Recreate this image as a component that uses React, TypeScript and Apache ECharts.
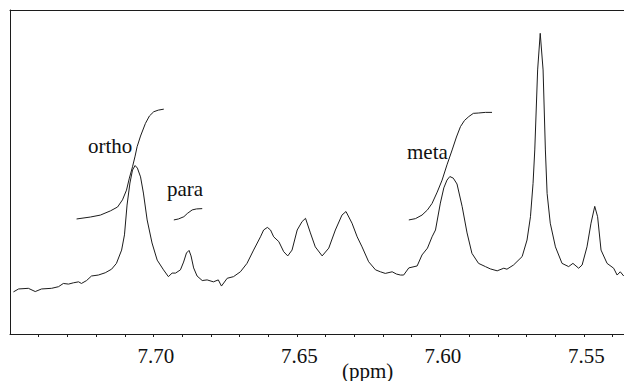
import React, { useEffect, useRef } from "react";
import * as echarts from "echarts";

// Chemical shift axis (ppm), reversed as in NMR convention
const axisMin = 7.536;
const axisMax = 7.75;
const tickLabels = [7.55, 7.6, 7.65, 7.7];
const minorTicks = [7.54, 7.55, 7.56, 7.57, 7.58, 7.59, 7.6, 7.61, 7.62, 7.63, 7.64, 7.65, 7.66, 7.67, 7.68, 7.69, 7.7, 7.71, 7.72, 7.73, 7.74];

// 1H NMR spectrum (relative intensity)
const spectrumPpm = [
  7.7488, 7.747, 7.7436, 7.7412, 7.739, 7.7355, 7.7331, 7.7314, 7.7296, 7.7279, 7.7261, 7.7251, 7.7233, 7.7216,
  7.7192, 7.7168, 7.7146, 7.7129, 7.7111, 7.7101, 7.7092, 7.7082, 7.7073, 7.7064, 7.7056, 7.7045, 7.7035, 7.7022,
  7.7005, 7.6987, 7.6965, 7.6948, 7.6935, 7.6923, 7.6906, 7.6895, 7.6885, 7.6876, 7.6869, 7.686, 7.6848, 7.683,
  7.6813, 7.6791, 7.6774, 7.6763, 7.6743, 7.6721, 7.6697, 7.6674, 7.6651, 7.6627, 7.6616, 7.6603, 7.6592, 7.6581,
  7.6563, 7.6546, 7.6532, 7.6517, 7.6499, 7.6482, 7.647, 7.6453, 7.6436, 7.6412, 7.6389, 7.6366, 7.6343, 7.6329,
  7.6308, 7.629, 7.6273, 7.625, 7.6226, 7.6209, 7.6192, 7.6168, 7.6153, 7.6139, 7.6128, 7.611, 7.6081, 7.6064,
  7.6045, 7.6029, 7.6017, 7.6, 7.5988, 7.5977, 7.5967, 7.5955, 7.5942, 7.5924, 7.5907, 7.589, 7.5867, 7.5843,
  7.5826, 7.5802, 7.5779, 7.5768, 7.5745, 7.5715, 7.5698, 7.5686, 7.5677, 7.5671, 7.5661, 7.5652, 7.5642, 7.5634,
  7.5628, 7.5617, 7.5599, 7.5576, 7.5553, 7.5538, 7.5518, 7.5506, 7.5489, 7.5475, 7.5462, 7.5452, 7.544, 7.5419,
  7.5396, 7.5384, 7.5373, 7.5361,
];
const spectrumIntensity = [
  13.0, 13.9, 14.1, 13.1, 13.9, 14.1, 14.6, 15.6, 15.4, 15.8, 16.1, 15.6, 16.5, 17.9,
  18.2, 18.9, 20.0, 21.8, 25.9, 30.6, 39.8, 46.6, 50.6, 52.0, 51.2, 48.5, 43.5, 35.2,
  28.1, 22.8, 19.8, 17.7, 18.8, 18.8, 19.8, 22.2, 25.0, 25.8, 24.1, 20.4, 17.9, 16.5,
  16.7, 16.1, 16.7, 14.8, 17.2, 17.7, 19.2, 21.8, 25.9, 30.0, 32.1, 32.9, 32.1, 30.0,
  28.5, 25.4, 24.1, 25.9, 32.1, 34.7, 35.7, 31.2, 26.9, 24.1, 26.5, 32.1, 36.7, 37.8,
  34.2, 30.0, 26.9, 22.3, 19.8, 19.2, 18.7, 19.2, 18.5, 18.2, 18.2, 20.4, 21.0, 24.4,
  26.5, 30.0, 32.1, 40.4, 45.1, 47.5, 48.6, 48.1, 46.3, 39.3, 31.2, 24.9, 21.8, 20.8,
  20.1, 19.5, 20.3, 20.0, 21.3, 23.9, 29.0, 36.2, 46.5, 56.8, 81.5, 92.8, 81.5, 56.8,
  43.4, 34.2, 26.9, 21.8, 20.8, 21.8, 20.3, 21.3, 26.9, 34.2, 39.4, 36.2, 25.9, 21.8,
  20.3, 18.2, 19.2, 17.9,
];

// Integral traces
const orthoPpm = [7.7268, 7.722, 7.7185, 7.715, 7.7125, 7.7108, 7.7094, 7.7084, 7.7073, 7.7064, 7.7057, 7.7045, 7.7028, 7.7014, 7.6999, 7.6983, 7.6964];
const orthoIntegral = [35.5, 36.1, 36.7, 38.0, 39.2, 41.4, 44.4, 48.1, 51.6, 54.9, 57.8, 61.1, 65.0, 67.3, 68.6, 69.1, 69.4];
const paraPpm = [7.6929, 7.6913, 7.6894, 7.6882, 7.6865, 7.685, 7.683];
const paraIntegral = [35.2, 35.5, 36.2, 37.2, 38.3, 38.6, 38.7];
const metaPpm = [7.611, 7.6087, 7.6064, 7.6045, 7.6029, 7.6011, 7.5994, 7.5977, 7.5959, 7.5944, 7.593, 7.5916, 7.5901, 7.5885, 7.5868, 7.5843, 7.582];
const metaIntegral = [35.2, 35.6, 36.7, 38.3, 40.3, 43.8, 47.5, 52.2, 56.8, 60.8, 64.0, 65.9, 67.1, 68.1, 68.2, 68.4, 68.4];

const axisTitle = "(ppm)";
const peakLabels = ["ortho", "para", "meta"];

const zip = (xs: number[], ys: number[]) => xs.map((x, i) => [x, ys[i]]);

const INK = "#1c1c1c";
const FONT = "'Liberation Serif', 'Times New Roman', 'DejaVu Serif', serif";

export default function App() {
  const ref = useRef<HTMLDivElement>(null);
  useEffect(() => {
    if (!ref.current) return;
    const chart = echarts.init(ref.current, null, { renderer: "svg" });
    const lineSeries = (name: string, data: number[][]) => ({
      name,
      type: "line",
      data,
      symbol: "none",
      showSymbol: false,
      smooth: false,
      lineStyle: { color: INK, width: 1 },
      xAxisIndex: 0,
      yAxisIndex: 0,
      silent: true,
      z: 3,
    });
    chart.setOption({
      animation: false,
      backgroundColor: "#ffffff",
      textStyle: { fontFamily: FONT },
      grid: { left: 10, right: 0, top: 10, bottom: 47, containLabel: false },
      xAxis: [
        {
          type: "value",
          min: axisMin,
          max: axisMax,
          inverse: true,
          position: "bottom",
          axisLine: { show: true, lineStyle: { color: INK, width: 1 } },
          axisTick: { show: true, customValues: minorTicks, length: 3, inside: false, lineStyle: { color: INK, width: 1 } },
          axisLabel: {
            show: true,
            customValues: tickLabels,
            formatter: (v: number) => v.toFixed(2),
            margin: 11,
            fontSize: 21,
            color: "#111",
            fontFamily: FONT,
            padding: [0, 0, 0, 5],
          },
          splitLine: { show: false },
        },
        {
          type: "value",
          min: axisMin,
          max: axisMax,
          inverse: true,
          position: "top",
          axisLine: { show: true, lineStyle: { color: INK, width: 1 } },
          axisTick: { show: false },
          axisLabel: { show: false },
          splitLine: { show: false },
        },
      ],
      yAxis: {
        type: "value",
        min: 0,
        max: 100,
        axisLine: { show: true, lineStyle: { color: INK, width: 1 } },
        axisTick: { show: false },
        axisLabel: { show: false },
        splitLine: { show: false },
      },
      series: [
        lineSeries("spectrum", zip(spectrumPpm, spectrumIntensity)),
        lineSeries("ortho integral", zip(orthoPpm, orthoIntegral)),
        lineSeries("para integral", zip(paraPpm, paraIntegral)),
        lineSeries("meta integral", zip(metaPpm, metaIntegral)),
      ],
      graphic: [
        { type: "text", left: 88, top: 135, style: { text: peakLabels[0], fontSize: 21, fontFamily: FONT, fill: "#111" } },
        { type: "text", left: 167, top: 178, style: { text: peakLabels[1], fontSize: 21, fontFamily: FONT, fill: "#111" } },
        { type: "text", left: 407, top: 141, style: { text: peakLabels[2], fontSize: 21, fontFamily: FONT, fill: "#111" } },
        { type: "text", left: 342, top: 360, style: { text: axisTitle, fontSize: 21, fontFamily: FONT, fill: "#111" } },
      ],
    });
    return () => chart.dispose();
  }, []);
  return (
    <div
      ref={ref}
      style={{ position: "fixed", left: 0, top: 0, width: 624, height: 381, background: "#fff" }}
    />
  );
}
